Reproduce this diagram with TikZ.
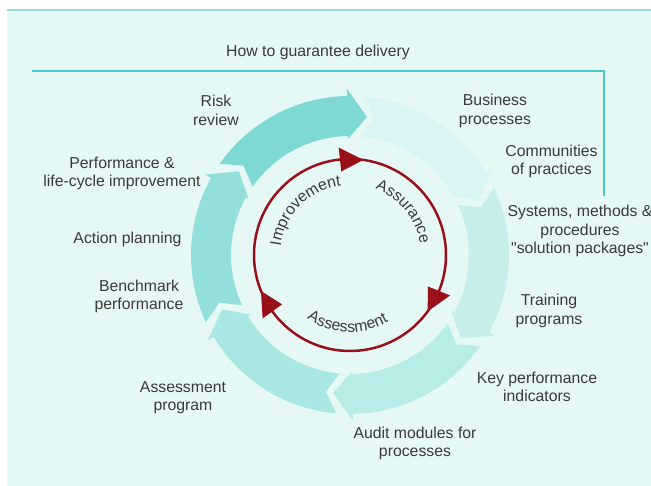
\documentclass[tikz,border=0pt]{standalone}
\usepackage{fontspec}
\setmainfont{Liberation Sans}
\usetikzlibrary{decorations.text}
\definecolor{panel}{HTML}{E5F8F6}
\definecolor{paneledge}{HTML}{97DEDA}
\definecolor{rulecol}{HTML}{45CBC8}
\definecolor{segA}{HTML}{7ED9D3}
\definecolor{segB}{HTML}{D9F4F2}
\definecolor{segC}{HTML}{C6EFEC}
\definecolor{segD}{HTML}{B8ECE7}
\definecolor{segE}{HTML}{A8E7E2}
\definecolor{segF}{HTML}{93E0DA}
\definecolor{cycred}{HTML}{9A1019}
\definecolor{txt}{HTML}{3A3A3A}
\newcommand\straightquote{\XeTeXglyph\XeTeXcharglyph"22\relax}
% #1 fill, #2 tail angle, #3 head tip angle
\newcommand\ringseg[3]{%
  \pgfmathsetmacro\rsHB{#3+8}\pgfmathsetmacro\rsNA{#2-5}%
  \fill[#1] (#2:159) arc[start angle=#2, end angle=\rsHB, radius=159]
    -- (\rsHB:166) -- (#3:139) -- (\rsHB:116) -- (\rsHB:119)
    arc[start angle=\rsHB, end angle=#2, radius=119] -- (\rsNA:139) -- cycle;}
\newcommand\redtri[1]{%
  \pgfmathsetmacro\rtTip{#1-14}%
  \fill[cycred] (#1:84) -- (#1:108) -- (\rtTip:96) -- cycle;}
\begin{document}
\begin{tikzpicture}[x=1pt,y=1pt,
  lbl/.style={align=center, text=txt, inner sep=0pt, font=\fontsize{15.8}{18.5}\selectfont}]
\useasboundingbox (0,0) rectangle (651,486);
\fill[panel] (7,0) rectangle (651,476);
\draw[paneledge, line width=2] (7,476) -- (651,476);
\node[lbl] (title) at (318,434) {How to guarantee delivery};
\coordinate (ruleL) at (32,415);
\coordinate (ruleC) at (604,415);
\coordinate (ruleE) at (604,290);
\draw[rulecol, line width=1.3] (ruleL) -- (ruleC) -- (ruleE);
\begin{scope}[shift={(350,231)}]
  \ringseg{segA}{145}{83}
  \ringseg{segB}{85}{23}
  \ringseg{segC}{25}{-37}
  \ringseg{segD}{-35}{-97}
  \ringseg{segE}{-95}{-157}
  \ringseg{segF}{-155}{-217}
  \draw[cycred, line width=2.5] (0,0) circle[radius=96];
  \redtri{96}\redtri{-22}\redtri{216}
  \path[decorate, decoration={text along path, text align=center,
      text={|\fontsize{15.8}{18}\selectfont\color{txt}|Improvement}}]
      (180:70) arc[start angle=180, end angle=90, radius=70];
  \path[decorate, decoration={text along path, text align=center,
      text={|\fontsize{15.8}{18}\selectfont\color{txt}|Assurance}}]
      (84:71) arc[start angle=84, end angle=-6, radius=71];
  \path[decorate, decoration={text along path, text align=center,
      text={|\fontsize{15.8}{18}\selectfont\color{txt}|Assessment}}]
      (223:77) arc[start angle=223, end angle=313, radius=77];
\end{scope}
\node[lbl] (risk) at (216,375.5) {Risk\\review};
\node[lbl] (business) at (495,375) {Business\\processes};
\node[lbl] (communities) at (551.5,324.5) {Communities\\of practices};
\node[lbl] (systems) at (580,255) {Systems, methods \&\\procedures\\\straightquote solution packages\straightquote};
\node[lbl] (training) at (549,175) {Training\\programs};
\node[lbl] (kpi) at (537,99) {Key performance\\indicators};
\node[lbl] (audit) at (415,42.5) {Audit modules for\\processes};
\node[lbl] (assessprog) at (183,88.5) {Assessment\\program};
\node[lbl] (benchmark) at (139,189.5) {Benchmark\\performance};
\node[lbl] (action) at (127.5,247) {Action planning};
\node[lbl] (perf) at (122,312.5) {Performance \&\\life-cycle improvement};
\end{tikzpicture}
\end{document}
